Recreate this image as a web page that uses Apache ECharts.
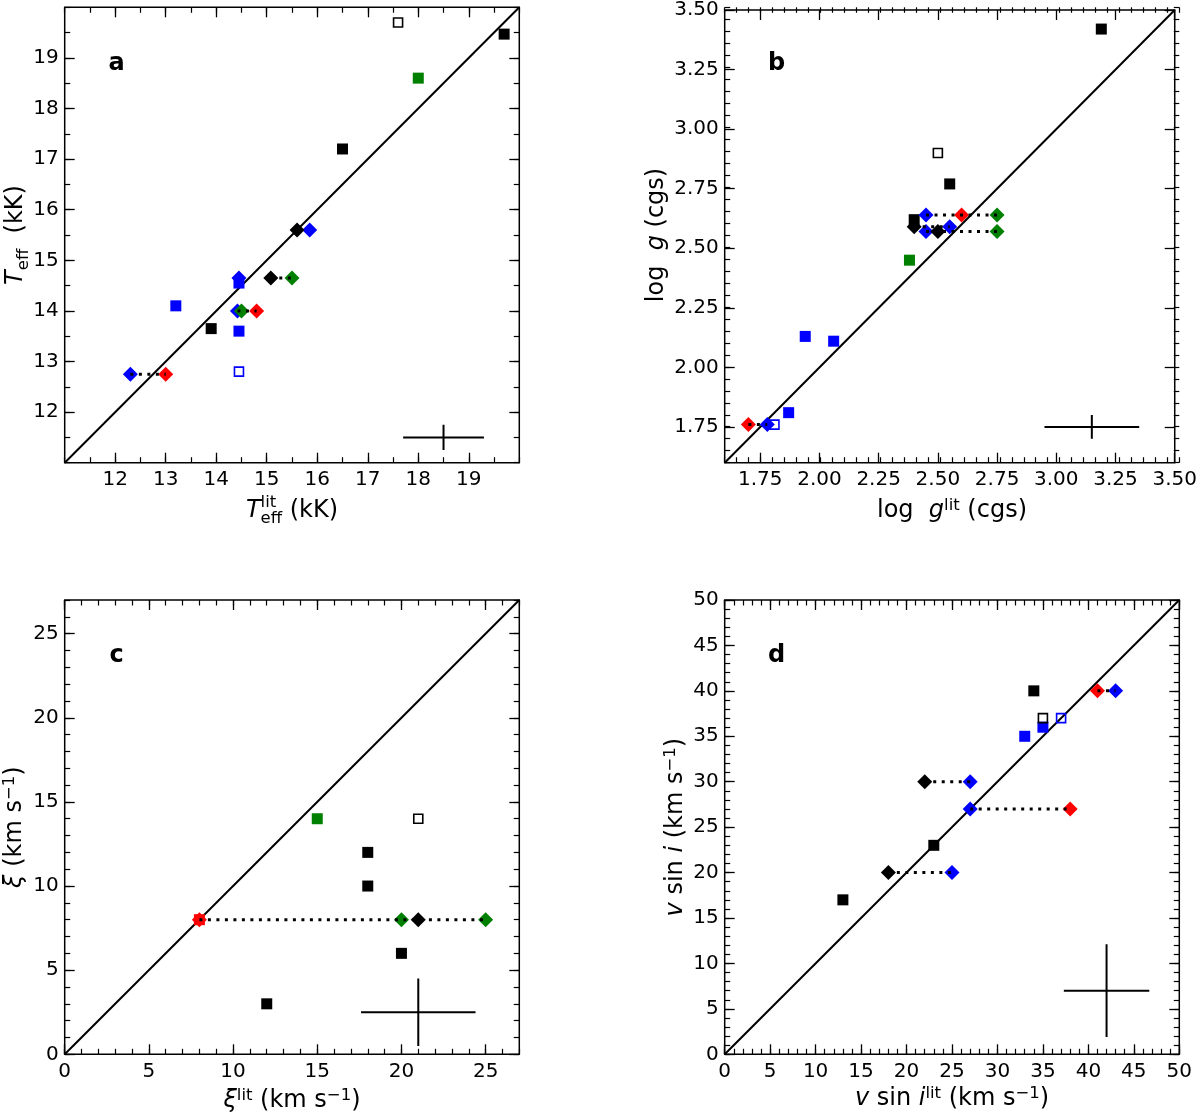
<!DOCTYPE html>
<html>
<head>
<meta charset="utf-8">
<title>Stellar parameters vs literature</title>
<script src="https://cdn.jsdelivr.net/npm/echarts@6/dist/echarts.min.js"></script>
<style>
    html, body { margin: 0; padding: 0; background: #fff; }
    #chart { width: 1200px; height: 1113px; }
</style>
</head>
<body>
<div id="chart"></div>
<script>
// ---------- panel a: Teff (kK) ----------
const A_TICKS = [12, 13, 14, 15, 16, 17, 18, 19];
const A_SQ_BLACK = [[19.7, 19.47], [16.5, 17.2], [13.9, 13.65]];
const A_SQ_BLUE = [[13.2, 14.1], [14.45, 14.55], [14.45, 13.6]];
const A_SQ_GREEN = [[18.0, 18.6]];
const A_OPEN_BLACK = [[17.6, 19.7]];
const A_OPEN_BLUE = [[14.45, 12.8]];
const A_DIA_BLUE = [[15.85, 15.6], [14.45, 14.65], [14.42, 14.0], [12.3, 12.75]];
const A_DIA_BLACK = [[15.6, 15.6], [15.08, 14.65]];
const A_DIA_GREEN = [[15.5, 14.65], [14.5, 14.0]];
const A_DIA_RED = [[14.8, 14.0], [13.0, 12.75]];
const A_LINKS = [[12.3, 13.0, 12.75], [14.42, 14.8, 14.0], [15.08, 15.5, 14.65]]; // x1, x2, y
const A_ERR = [18.5, 11.5, 0.8, 0.25]; // x, y, half-width, half-height

// ---------- panel b: log g ----------
const B_TICKS = [1.75, 2.0, 2.25, 2.5, 2.75, 3.0, 3.25, 3.5];
const B_SQ_BLACK = [[3.19, 3.42], [2.55, 2.77], [2.4, 2.62]];
const B_SQ_BLUE = [[1.94, 2.13], [2.06, 2.11], [1.87, 1.81]];
const B_SQ_GREEN = [[2.38, 2.45]];
const B_OPEN_BLACK = [[2.5, 2.9]];
const B_OPEN_BLUE = [[1.81, 1.76]];
const B_DIA_BLUE = [[2.45, 2.64], [2.55, 2.59], [2.45, 2.57], [1.78, 1.76]];
const B_DIA_BLACK = [[2.4, 2.59], [2.5, 2.57]];
const B_DIA_GREEN = [[2.75, 2.64], [2.75, 2.57]];
const B_DIA_RED = [[2.6, 2.64], [1.7, 1.76]];
const B_LINKS = [[2.45, 2.75, 2.64], [2.4, 2.55, 2.59], [2.45, 2.75, 2.57], [1.7, 1.78, 1.76]];
const B_ERR = [3.15, 1.75, 0.2, 0.05];

// ---------- panel c: microturbulence ----------
const C_TICKS = [0, 5, 10, 15, 20, 25];
const C_SQ_BLACK = [[18, 12], [18, 10], [20, 6], [12, 3]];
const C_SQ_GREEN = [[15, 14]];
const C_SQ_RED = [[8, 8]];
const C_OPEN_BLACK = [[21, 14]];
const C_DIA_BLACK = [[21, 8]];
const C_DIA_GREEN = [[20, 8], [25, 8]];
const C_DIA_RED = [[8, 8]];
const C_LINKS = [[8, 25, 8]];
const C_ERR = [21, 2.5, 3.4, 2.0];

// ---------- panel d: v sin i ----------
const D_TICKS = [0, 5, 10, 15, 20, 25, 30, 35, 40, 45, 50];
const D_SQ_BLACK = [[34, 40], [23, 23], [13, 17]];
const D_SQ_BLUE = [[35, 36], [33, 35]];
const D_OPEN_BLACK = [[35, 37]];
const D_OPEN_BLUE = [[37, 37]];
const D_DIA_BLACK = [[22, 30], [18, 20]];
const D_DIA_BLUE = [[43, 40], [27, 30], [27, 27], [25, 20]];
const D_DIA_RED = [[41, 40], [38, 27]];
const D_LINKS = [[41, 43, 40], [22, 27, 30], [27, 38, 27], [18, 25, 20]];
const D_ERR = [42, 7, 4.7, 5.1];

const BLACK = '#000000';
const BLUE = '#0000ff';
const GREEN = '#008000';
const RED = '#ff0000';
const FONT = '"DejaVu Sans", "Liberation Sans", sans-serif';
const TITLE_SIZE = 24;
const SCRIPT_SIZE = 16.5;

const PANELS = [
    {
        letter: 'a', grid: { left: 64.7, top: 7.3, width: 454.6, height: 455.4 },
        range: [11, 20], ticks: A_TICKS, minor: 0.5, dec: 0,
        squares: [[A_SQ_BLACK, BLACK], [A_SQ_BLUE, BLUE], [A_SQ_GREEN, GREEN]],
        open: [[A_OPEN_BLACK, BLACK], [A_OPEN_BLUE, BLUE]],
        diamonds: [[A_DIA_BLUE, BLUE], [A_DIA_BLACK, BLACK], [A_DIA_GREEN, GREEN], [A_DIA_RED, RED]],
        links: A_LINKS, err: A_ERR,
        xTitle: [{ t: 'T', it: true }, { t: 'eff', s: SCRIPT_SIZE, b: 5 , stack: true }, { t: 'lit', s: SCRIPT_SIZE, b: -11 }, { t: ' (kK)' }],
        yTitle: [{ t: 'T', it: true }, { t: 'eff', s: SCRIPT_SIZE, b: 5 }, { t: '  (kK)' }],
        xTitlePos: 519, yTitlePos: 24
    },
    {
        letter: 'b', grid: { left: 724.7, top: 7.3, width: 454.6, height: 455.4 },
        range: [1.6, 3.5], ticks: B_TICKS, minor: 0.05, dec: 2,
        squares: [[B_SQ_BLACK, BLACK], [B_SQ_BLUE, BLUE], [B_SQ_GREEN, GREEN]],
        open: [[B_OPEN_BLACK, BLACK], [B_OPEN_BLUE, BLUE]],
        diamonds: [[B_DIA_BLUE, BLUE], [B_DIA_BLACK, BLACK], [B_DIA_GREEN, GREEN], [B_DIA_RED, RED]],
        links: B_LINKS, err: B_ERR,
        xTitle: [{ t: 'log  ' }, { t: 'g', it: true }, { t: 'lit', s: SCRIPT_SIZE, b: -8 }, { t: ' (cgs)' }],
        yTitle: [{ t: 'log  ' }, { t: 'g', it: true }, { t: ' (cgs)' }],
        xTitlePos: 519, yTitlePos: 665
    },
    {
        letter: 'c', grid: { left: 64.7, top: 600, width: 454.6, height: 454.3 },
        range: [0, 27], ticks: C_TICKS, minor: 1, dec: 0,
        squares: [[C_SQ_BLACK, BLACK], [C_SQ_GREEN, GREEN], [C_SQ_RED, RED]],
        open: [[C_OPEN_BLACK, BLACK]],
        diamonds: [[C_DIA_BLACK, BLACK], [C_DIA_GREEN, GREEN], [C_DIA_RED, RED]],
        links: C_LINKS, err: C_ERR,
        xTitle: [{ t: 'ξ', it: true }, { t: 'lit', s: SCRIPT_SIZE, b: -8 }, { t: ' (km s' }, { t: '−1', s: SCRIPT_SIZE, b: -8 }, { t: ')' }],
        yTitle: [{ t: 'ξ', it: true }, { t: ' (km s' }, { t: '−1', s: SCRIPT_SIZE, b: -8 }, { t: ')' }],
        xTitlePos: 1109, yTitlePos: 23
    },
    {
        letter: 'd', grid: { left: 724.7, top: 600, width: 454.6, height: 454.3 },
        range: [0, 50], ticks: D_TICKS, minor: 1, dec: 0,
        squares: [[D_SQ_BLACK, BLACK], [D_SQ_BLUE, BLUE]],
        open: [[D_OPEN_BLACK, BLACK], [D_OPEN_BLUE, BLUE]],
        diamonds: [[D_DIA_BLACK, BLACK], [D_DIA_BLUE, BLUE], [D_DIA_RED, RED]],
        links: D_LINKS, err: D_ERR,
        xTitle: [{ t: 'v', it: true }, { t: ' sin ' }, { t: 'i', it: true }, { t: 'lit', s: SCRIPT_SIZE, b: -8 }, { t: ' (km s' }, { t: '−1', s: SCRIPT_SIZE, b: -8 }, { t: ')' }],
        yTitle: [{ t: 'v', it: true }, { t: ' sin ' }, { t: 'i', it: true }, { t: ' (km s' }, { t: '−1', s: SCRIPT_SIZE, b: -8 }, { t: ')' }],
        xTitlePos: 1107, yTitlePos: 684
    }
];

// Each panel uses two overlapping grids: one carries the major ticks (and labels),
// the other carries the minor ticks. Each grid has an axis on both sides.
const GRIDS_PER_PANEL = 2;

function buildAxis(dim, panel, gridIndex, position, kind, withLabels) {
    const axis = {
        type: 'value',
        gridIndex,
        position,
        min: panel.range[0],
        max: panel.range[1],
        axisLine: { show: false, onZero: false },
        splitLine: { show: false },
        axisLabel: { show: false }
    };
    if (kind === 'major') {
        axis.axisTick = {
            inside: true,
            length: 10,
            customValues: panel.ticks,
            lineStyle: { color: BLACK, width: 1.3 }
        };
        if (withLabels) {
            axis.axisLabel = {
                customValues: panel.ticks,
                formatter: v => v.toFixed(panel.dec),
                color: BLACK,
                fontFamily: FONT,
                fontSize: 20,
                margin: dim === 'x' ? 7 : 6
            };
        }
    } else {
        axis.interval = panel.minor;
        axis.axisTick = {
            inside: true,
            length: 5.5,
            lineStyle: { color: BLACK, width: 1.2 }
        };
    }
    return axis;
}

// text measuring for the hand-built axis titles (sub/superscripts)
const measureCtx = document.createElement('canvas').getContext('2d');
function textWidth(str, size, italic) {
    measureCtx.font = (italic ? 'italic ' : '') + size + 'px ' + FONT;
    return measureCtx.measureText(str).width;
}

function buildTitle(parts, x, y, vertical) {
    const children = [];
    let cursor = 0;
    let stackWidth = 0;
    parts.forEach(p => {
        const size = p.s || TITLE_SIZE;
        const w = textWidth(p.t, size, p.it);
        children.push({
            type: 'text',
            x: cursor,
            y: (p.b || 0) - 0.346 * size,
            style: {
                text: p.t,
                fontFamily: FONT,
                fontSize: size,
                fontStyle: p.it ? 'italic' : 'normal',
                fill: BLACK,
                align: 'left',
                verticalAlign: 'middle'
            }
        });
        if (p.stack) {
            stackWidth = w;
        } else {
            cursor += Math.max(w, stackWidth);
            stackWidth = 0;
        }
    });
    children.forEach(c => { c.x -= cursor / 2; });
    return {
        type: 'group',
        x,
        y,
        rotation: vertical ? Math.PI / 2 : 0,
        silent: true,
        children
    };
}

const chart = echarts.init(document.getElementById('chart'), null, { renderer: 'canvas' });

const grids = [];
const xAxes = [];
const yAxes = [];
const series = [];
const graphics = [];

PANELS.forEach((panel, pi) => {
    const g = panel.grid;
    const majorGrid = pi * GRIDS_PER_PANEL;
    const minorGrid = majorGrid + 1;
    grids.push({
        left: g.left, top: g.top, width: g.width, height: g.height,
        show: true, borderColor: BLACK, borderWidth: 1.5, backgroundColor: 'transparent',
        containLabel: false
    });
    grids.push({
        left: g.left, top: g.top, width: g.width, height: g.height,
        show: false, containLabel: false
    });

    // x axes: index majorGrid*2 -> bottom major (with labels), +1 top major, +2 bottom minor, +3 top minor
    const xMain = xAxes.length;
    xAxes.push(buildAxis('x', panel, majorGrid, 'bottom', 'major', true));
    xAxes.push(buildAxis('x', panel, majorGrid, 'top', 'major', false));
    xAxes.push(buildAxis('x', panel, minorGrid, 'bottom', 'minor', false));
    xAxes.push(buildAxis('x', panel, minorGrid, 'top', 'minor', false));
    const yMain = yAxes.length;
    yAxes.push(buildAxis('y', panel, majorGrid, 'left', 'major', true));
    yAxes.push(buildAxis('y', panel, majorGrid, 'right', 'major', false));
    yAxes.push(buildAxis('y', panel, minorGrid, 'left', 'minor', false));
    yAxes.push(buildAxis('y', panel, minorGrid, 'right', 'minor', false));

    const axisIdx = { xAxisIndex: xMain, yAxisIndex: yMain };
    const [lo, hi] = panel.range;

    // one-to-one line
    series.push({
        type: 'line', ...axisIdx, data: [[lo, lo], [hi, hi]],
        symbol: 'none', silent: true, z: 1,
        lineStyle: { color: BLACK, width: 2 }
    });

    panel.squares.forEach(([data, color]) => {
        series.push({
            type: 'scatter', ...axisIdx, data, symbol: 'rect', symbolSize: 11,
            silent: true, z: 3, itemStyle: { color, opacity: 1 }
        });
    });
    panel.open.forEach(([data, color]) => {
        series.push({
            type: 'scatter', ...axisIdx, data, symbol: 'rect', symbolSize: 9,
            silent: true, z: 3,
            itemStyle: { color: 'rgba(255,255,255,0)', borderColor: color, borderWidth: 1.6, opacity: 1 }
        });
    });
    panel.diamonds.forEach(([data, color]) => {
        series.push({
            type: 'scatter', ...axisIdx, data, symbol: 'diamond', symbolSize: 15,
            silent: true, z: 4, itemStyle: { color, opacity: 1 }
        });
    });

    // dotted links between determinations of the same star
    panel.links.forEach(([x1, x2, y]) => {
        series.push({
            type: 'line', ...axisIdx, data: [[x1, y], [x2, y]],
            symbol: 'none', silent: true, z: 5,
            lineStyle: { color: BLACK, width: 3, type: [3, 5.5], cap: 'butt' }
        });
    });

    // typical error bars
    const [ex, ey, dx, dy] = panel.err;
    series.push({
        type: 'line', ...axisIdx, data: [[ex - dx, ey], [ex + dx, ey]],
        symbol: 'none', silent: true, z: 2, lineStyle: { color: BLACK, width: 2 }
    });
    series.push({
        type: 'line', ...axisIdx, data: [[ex, ey - dy], [ex, ey + dy]],
        symbol: 'none', silent: true, z: 2, lineStyle: { color: BLACK, width: 2 }
    });

    // panel letter
    graphics.push({
        type: 'text', x: g.left + 52, y: g.top + 56, silent: true,
        style: {
            text: panel.letter, fontFamily: FONT, fontSize: 24, fontWeight: 'bold',
            fill: BLACK, align: 'center', verticalAlign: 'middle'
        }
    });

    graphics.push(buildTitle(panel.xTitle, g.left + g.width / 2, panel.xTitlePos, false));
    graphics.push(buildTitle(panel.yTitle, panel.yTitlePos, g.top + g.height / 2, true));
});

chart.setOption({
    animation: false,
    backgroundColor: '#ffffff',
    grid: grids,
    xAxis: xAxes,
    yAxis: yAxes,
    series,
    graphic: graphics
});
</script>
</body>
</html>
